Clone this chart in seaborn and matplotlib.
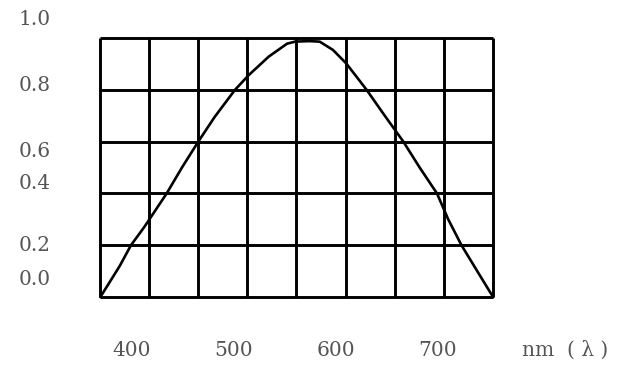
import numpy as np
import matplotlib.pyplot as plt
import seaborn as sns

# 曲线数据
wavelength = [369, 388, 399, 412, 434, 449, 465, 481, 501, 514, 534, 552, 560, 574, 584,
              597, 610, 630, 646, 666, 682, 699, 710, 723, 740, 754]
response = [0.00, 0.12, 0.20, 0.27, 0.40, 0.50, 0.60, 0.695, 0.80, 0.855, 0.928, 0.978, 0.986, 0.988, 0.986,
            0.954, 0.902, 0.80, 0.71, 0.60, 0.50, 0.40, 0.30, 0.20, 0.09, 0.00]

x_ticks = [400, 500, 600, 700]
x_tick_labels = ['400', '500', '600', '700']
y_tick_labels = ['0.0', '0.2', '0.4', '0.6', '0.8', '1.0']

sns.set_theme(style='white')
plt.rcParams['font.family'] = ['DejaVu Serif']

fig = plt.figure(figsize=(6.27, 3.70), dpi=100)
W, H = 627, 370
# 坐标轴范围与位置（像素换算）
x0, x1 = 364, 758
y0, y1 = -0.02, 1.10
px_per_nm = 1.02
left = 132 - (400 - x0) * px_per_nm
right = 132 + (x1 - 400) * px_per_nm
bottom = 297 - y0 * 259
top = 297 - y1 * 259
ax = fig.add_axes([left / W, (H - bottom) / H, (right - left) / W, (bottom - top) / H])
ax.set_xlim(x0, x1)
ax.set_ylim(y0, y1)

# 网格框
box_l, box_r = 368.6, 753.9
for gx in np.linspace(box_l, box_r, 9):
    ax.vlines(gx, 0, 1, color='black', lw=2.1, clip_on=False)
for gy in np.linspace(0, 1, 6):
    ax.hlines(gy, box_l, box_r, color='black', lw=2.1, clip_on=False)

sns.lineplot(x=wavelength, y=response, color='black', lw=1.9, ax=ax, clip_on=False)

for s in ax.spines.values():
    s.set_visible(False)

txt_color = '#555555'
ax.set_xticks(x_ticks)
ax.set_xticklabels(x_tick_labels)
# 原图纵轴标签位置不均匀
ax.set_yticks([0.077, 0.205, 0.445, 0.568, 0.825, 1.081])
ax.set_yticklabels(y_tick_labels)
ax.tick_params(axis='x', length=0, pad=28, labelsize=14.5, labelcolor=txt_color)
ax.tick_params(axis='y', length=0, pad=32, labelsize=14.5, labelcolor=txt_color)
ax.text(1.169, -0.167, 'nm  ( λ )', transform=ax.transAxes, ha='center', va='center',
        fontsize=14.5, color=txt_color)
ax.grid(False)

fig.savefig('out.png', dpi=100)
